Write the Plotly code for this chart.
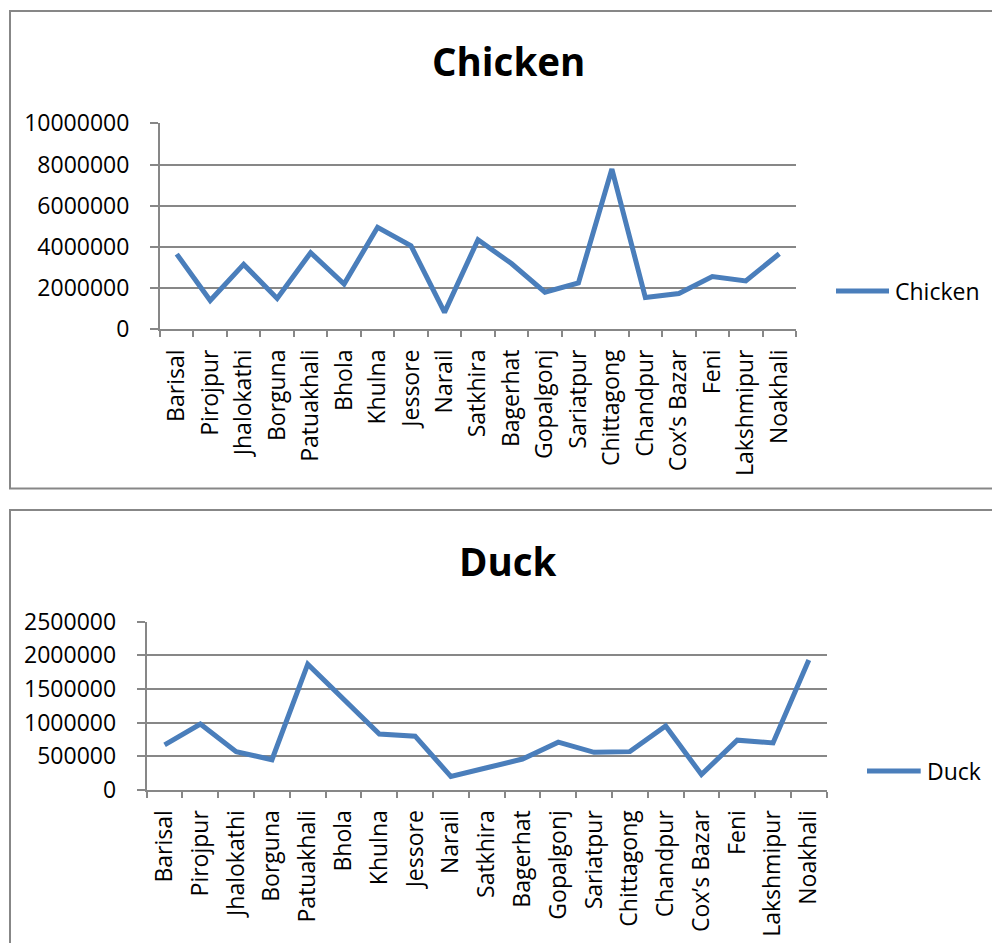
import plotly.graph_objects as go

districts = ["Barisal", "Pirojpur", "Jhalokathi", "Borguna", "Patuakhali", "Bhola",
             "Khulna", "Jessore", "Narail", "Satkhira", "Bagerhat", "Gopalgonj",
             "Sariatpur", "Chittagong", "Chandpur", "Cox’s Bazar", "Feni",
             "Lakshmipur", "Noakhali"]
chicken = [3650000, 1400000, 3150000, 1500000, 3720000, 2200000, 4950000, 4050000,
           820000, 4350000, 3190000, 1800000, 2250000, 7780000, 1540000, 1740000,
           2560000, 2350000, 3670000]
duck = [670000, 980000, 570000, 450000, 1870000, 1350000, 830000, 800000,
        200000, 330000, 460000, 710000, 560000, 570000, 950000, 230000, 740000,
        700000, 1930000]
chicken_ticks = [0, 2000000, 4000000, 6000000, 8000000, 10000000]
duck_ticks = [0, 500000, 1000000, 1500000, 2000000, 2500000]

W, H = 992, 943
LINE = "#4A7EBB"
GREY = "#878787"
FONT = "Open Sans"


def px(x):
    return x / W


def py(y):
    return 1 - y / H


fig = go.Figure()
fig.add_trace(go.Scatter(x=districts, y=chicken, mode="lines", name="Chicken",
                         line=dict(color=LINE, width=5), xaxis="x", yaxis="y",
                         showlegend=False))
fig.add_trace(go.Scatter(x=districts, y=duck, mode="lines", name="Duck",
                         line=dict(color=LINE, width=5), xaxis="x2", yaxis="y2",
                         showlegend=False))

# category slots with half a slot of padding on each side
cat_range = [-0.5, len(districts) - 0.5]

xcommon = dict(type="category", tickson="boundaries", ticks="outside", ticklen=6,
               tickwidth=1.5, tickcolor=GREY, showline=True, linecolor=GREY,
               linewidth=2, showgrid=False, tickangle=-90, automargin=False,
               range=cat_range,
               tickfont=dict(family=FONT, size=23, color="black"),
               ticklabelstandoff=9, fixedrange=True)
ycommon = dict(ticks="outside", ticklen=8, tickwidth=1.5, tickcolor=GREY,
               showline=True, linecolor=GREY, linewidth=2, showgrid=True,
               gridcolor=GREY, gridwidth=2, zeroline=False, tickformat="d",
               automargin=False,
               tickfont=dict(family=FONT, size=23, color="black"),
               ticklabelstandoff=16, fixedrange=True)

fig.update_layout(
    width=W, height=H, margin=dict(l=0, r=0, t=0, b=0, pad=0, autoexpand=False),
    paper_bgcolor="white", plot_bgcolor="white", showlegend=False,
    xaxis=dict(xcommon, domain=[px(160), px(796)], anchor="y"),
    yaxis=dict(ycommon, domain=[py(329.3), py(123.3)], anchor="x",
               range=[0, 10000000], tickvals=chicken_ticks),
    xaxis2=dict(xcommon, domain=[px(146.7), px(826.7)], anchor="y2"),
    yaxis2=dict(ycommon, domain=[py(790), py(621.7)], anchor="x2",
                range=[0, 2500000], tickvals=duck_ticks),
)

# chart frames
for y0, y1 in [(11, 488.5), (510, 960)]:
    fig.add_shape(type="rect", xref="paper", yref="paper",
                  x0=px(10), x1=px(1010), y0=py(y1), y1=py(y0),
                  line=dict(color=GREY, width=2), fillcolor="rgba(0,0,0,0)")

# titles
for text, yc in [("Chicken", 61), ("Duck", 560.5)]:
    fig.add_annotation(text=f"<b>{text}</b>", xref="paper", yref="paper",
                       x=px(508), y=py(yc), xanchor="center", yanchor="middle",
                       showarrow=False, font=dict(family=FONT, size=38.5, color="black"))

# legends
for name, x0, x1, yc in [("Chicken", 836, 889, 291), ("Duck", 867, 920.7, 771)]:
    fig.add_shape(type="line", xref="paper", yref="paper",
                  x0=px(x0), x1=px(x1), y0=py(yc), y1=py(yc),
                  line=dict(color=LINE, width=5))
    fig.add_annotation(text=name, xref="paper", yref="paper",
                       x=px(x1 + 4), y=py(yc), xanchor="left", yanchor="middle",
                       showarrow=False, font=dict(family=FONT, size=23, color="black"))

fig.write_html("out.html")
